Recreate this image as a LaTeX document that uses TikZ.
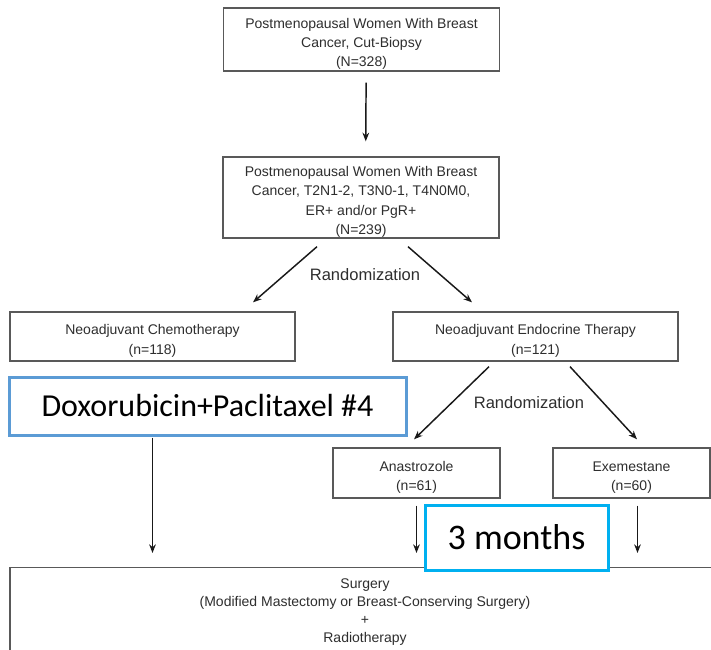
\documentclass[tikz,border=0pt]{standalone}
\usepackage{fontspec}
\setmainfont{Liberation Sans}
\newfontfamily\notefont{Carlito}
\usetikzlibrary{arrows.meta,calc}
\definecolor{boxgray}{HTML}{595959}
\definecolor{txtgray}{HTML}{2E2E2E}
\definecolor{noteblue}{HTML}{5B9BD5}
\definecolor{notecyan}{HTML}{00B0F0}
\newcommand{\toppad}{\rule{0pt}{14pt}}

\begin{document}
\begin{tikzpicture}[%
	x=0.75pt,y=-0.75pt,>={Stealth[length=6.5pt,width=5pt]},
	flow/.style={draw=boxgray,line width=1pt,fill=white,text=txtgray,align=center,
		font=\fontsize{10.5}{14.5}\selectfont,inner sep=0pt},
	note/.style={line width=2.25pt,fill=white,text=black,inner sep=0pt,
		font=\notefont\fontsize{24}{28}\selectfont},
	link/.style={->,draw=black!90,line width=1.1pt},
	randtext/.style={text=txtgray,font=\fontsize{12.4}{15}\selectfont}]

	\useasboundingbox (0,0) rectangle (711,650);

	\node[flow,minimum width=207pt,minimum height=47.25pt]		(cut)	at (361.5,39.5)	{\toppad Postmenopausal Women With Breast\\Cancer, Cut-Biopsy\\(N=328)};
	\node[flow,minimum width=207pt,minimum height=60.75pt]		(elig)	at (361,197.5)	{\toppad Postmenopausal Women With Breast\\Cancer, T2N1-2, T3N0-1, T4N0M0,\\ER+ and/or PgR+\\(N=239)};
	\node[flow,minimum width=213.75pt,minimum height=36.75pt]	(chemo)	at (152.5,336.5)	{\toppad Neoadjuvant Chemotherapy\\(n=118)};
	\node[flow,minimum width=213.75pt,minimum height=36.75pt]	(endo)	at (535.5,336.5)	{\toppad Neoadjuvant Endocrine Therapy\\(n=121)};
	\node[flow,minimum width=125.25pt,minimum height=37.5pt]	(anas)	at (416.5,473)	{\toppad Anastrozole\\(n=61)};
	\node[flow,minimum width=117.75pt,minimum height=37.5pt]	(exem)	at (631.5,473)	{\toppad Exemestane\\(n=60)};
	\node[flow,anchor=north,minimum width=532.5pt,inner ysep=8.5pt,
		font=\fontsize{10.5}{13.5}\selectfont]					(surg)	at (365,567)	{Surgery\\(Modified Mastectomy or Breast-Conserving Surgery)\\+\\Radiotherapy};

	\node[randtext]	(rand1)	at (365,275)	{Randomization};
	\node[randtext]	(rand2)	at (529,403)	{Randomization};

	% arrows
	\draw[link,shorten <=8.25pt,shorten >=11.25pt] ([xshift=3.5pt]cut.south) -- ([xshift=3.5pt]elig.north);
	\draw[link] ($(elig.south)+(-44,8)$) -- ($(chemo.north)+(100.5,-9)$);
	\draw[link] ($(elig.south)+(47,8)$) -- ($(endo.north)+(-63.5,-9)$);
	\draw[link] ($(endo.south)+(-46.5,5)$) -- ($(anas.north)+(-2.5,-8)$);
	\draw[link] ($(endo.south)+(34.5,5)$) -- ($(exem.north)+(5.5,-8)$);
	\draw[link,shorten <=57pt,shorten >=10.5pt] (chemo.south) -- (chemo.south |- surg.north);
	\draw[link,shorten <=5.25pt,shorten >=10.5pt] (anas.south) -- (anas.south |- surg.north);
	\draw[link,shorten <=5.25pt,shorten >=10.5pt] ([xshift=4.5pt]exem.south) -- ([xshift=4.5pt]exem.south |- surg.north);

	% notes on top
	\node[note,draw=noteblue,minimum width=297.75pt,minimum height=43.5pt]	(doxo)	at (207.5,406)	{Doxorubicin+Paclitaxel \#4};
	\node[note,draw=notecyan,minimum width=137.25pt,minimum height=48.75pt,
		font=\notefont\fontsize{27}{32}\selectfont]							(months)	at (516.5,537.5)	{3 months};

\end{tikzpicture}
\end{document}
